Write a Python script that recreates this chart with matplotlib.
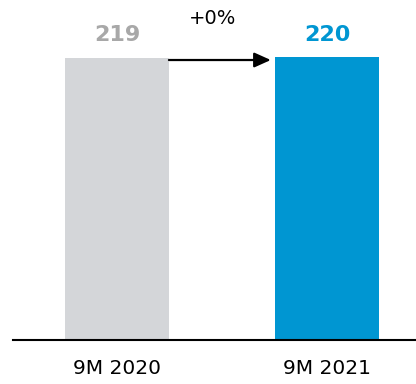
import matplotlib.pyplot as plt

periods = ['9M 2020', '9M 2021']
values = [219, 220]
bar_colors = ['#D4D6D9', '#0096D2']
label_colors = ['#A8A8A8', '#0096D2']
change_label = '+0%'

plt.rcParams['font.family'] = ['DejaVu Sans']

fig = plt.figure(figsize=(4.16, 3.84), dpi=100)
ax = fig.add_axes([13 / 416, 1 - 340 / 384, 403 / 416, 340 / 384])

width = 0.495
x = list(range(len(periods)))
ax.bar(x, values, width=width, color=bar_colors)

ax.set_xlim(-0.495, 1.424)
ax.set_ylim(0, 264)

# value labels above bars
for xi, v, c in zip(x, values, label_colors):
    ax.text(xi, 236.5, str(v), ha='center', va='center', fontsize=16,
            fontweight='bold', color=c)

# arrow between bars
ax.annotate('', xy=(1 - width / 2 - 0.02, 217.4), xytext=(width / 2, 217.4),
            arrowprops=dict(arrowstyle='-|>,head_length=1.0,head_width=0.45',
                            color='black', lw=1.6, shrinkA=0, shrinkB=0))
ax.text(0.455, 249.5, change_label, ha='center', va='center', fontsize=14,
        color='black')

ax.set_xticks(x)
ax.set_xticklabels(periods, fontsize=14.5)
ax.tick_params(axis='x', length=0, pad=14)
ax.set_yticks([])
for side in ['top', 'right', 'left']:
    ax.spines[side].set_visible(False)
ax.spines['bottom'].set_linewidth(1.5)

fig.savefig('out.png', dpi=100)
